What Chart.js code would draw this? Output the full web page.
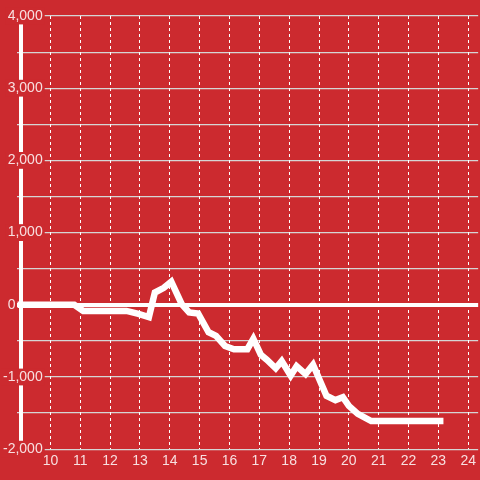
<!DOCTYPE html>
<html>
<head>
<meta charset="utf-8">
<script src="https://cdn.jsdelivr.net/npm/chart.js@4"></script>
<style>
  html, body { margin: 0; padding: 0; background: #cc2a2f; }
  #wrap { width: 480px; height: 480px; }
</style>
</head>
<body>
<div id="wrap"><canvas id="graph1" width="480" height="480"></canvas></div>
<script>
// valores
var horas = [8.9, 10.8, 11.1, 12.55, 12.95, 13.3, 13.5, 13.8, 14.05, 14.4, 14.65, 14.95,
             15.3, 15.55, 15.85, 16.15, 16.6, 16.8, 17.05, 17.25, 17.55, 17.75, 18.05,
             18.25, 18.55, 18.8, 19.25, 19.55, 19.8, 20.0, 20.3, 20.75, 23.17];
var saldo = [0, 0, -85, -85, -125, -170, 170, 235, 320, 10, -105, -120,
             -380, -430, -570, -615, -615, -470, -690, -760, -880, -780, -980,
             -850, -960, -830, -1260, -1320, -1280, -1400, -1510, -1610, -1610];
var xMin = 8.88, xMax = 24.333;
var yMin = -2000, yMax = 4000;

var RED = '#cc2a2f';
var TXT = 'rgba(255,255,255,0.85)';
var FONT = { family: "'Liberation Sans', Arial, sans-serif", size: 14 };

document.addEventListener('DOMContentLoaded', function () {
    var pontos = horas.map(function (h, i) { return { x: h, y: saldo[i] }; });

    var ctx = document.getElementById('graph1').getContext('2d');
    new Chart(ctx, {
        type: 'line',
        data: {
            datasets: [{
                data: pontos,
                borderColor: '#ffffff',
                borderWidth: 6.5,
                pointRadius: 0,
                tension: 0,
                fill: false
            }]
        },
        options: {
            responsive: false,
            animation: false,
            layout: { padding: { top: 16, bottom: 6, left: 0, right: 0 } },
            plugins: { legend: { display: false }, tooltip: { enabled: false } },
            scales: {
                y: {
                    min: yMin,
                    max: yMax,
                    afterFit: function (s) { s.width = 17; },
                    border: { display: false },
                    grid: {
                        drawTicks: false,
                        color: function (c) { return c.tick && c.tick.value === 0 ? '#ffffff' : '#d5d5d5'; },
                        lineWidth: function (c) { return c.tick && c.tick.value === 0 ? 4 : 1.2; }
                    },
                    ticks: {
                        stepSize: 500,
                        mirror: true,
                        crossAlign: 'far',
                        padding: -14,
                        color: TXT,
                        font: FONT,
                        autoSkip: false,
                        callback: function (v) {
                            if (v % 1000 !== 0) return '';
                            if (v === 0) return '0       ';
                            return v.toLocaleString('en-US');
                        },
                        showLabelBackdrop: true,
                        backdropColor: function (c) {
                            var v = c.tick ? c.tick.value : 1;
                            return (v % 1000 === 0 && v !== 0) ? RED : 'rgba(0,0,0,0)';
                        },
                        backdropPadding: { top: 0, bottom: 0, left: 2, right: 2 }
                    }
                },
                x: {
                    type: 'linear',
                    min: xMin,
                    max: xMax,
                    border: {
                        display: false,
                        dash: function (c) { return c.tick && c.tick.value === 9 ? [] : [3, 3]; }
                    },
                    grid: {
                        drawTicks: false,
                        color: '#ffffff',
                        lineWidth: function (c) { return c.tick && c.tick.value === 9 ? 4 : 1; }
                    },
                    ticks: {
                        stepSize: 1,
                        includeBounds: false,
                        autoSkip: false,
                        maxRotation: 0,
                        padding: 4,
                        color: TXT,
                        font: FONT,
                        callback: function (v) { return v === 9 ? '' : v; }
                    }
                }
            }
        }
    });
});
</script>
</body>
</html>
